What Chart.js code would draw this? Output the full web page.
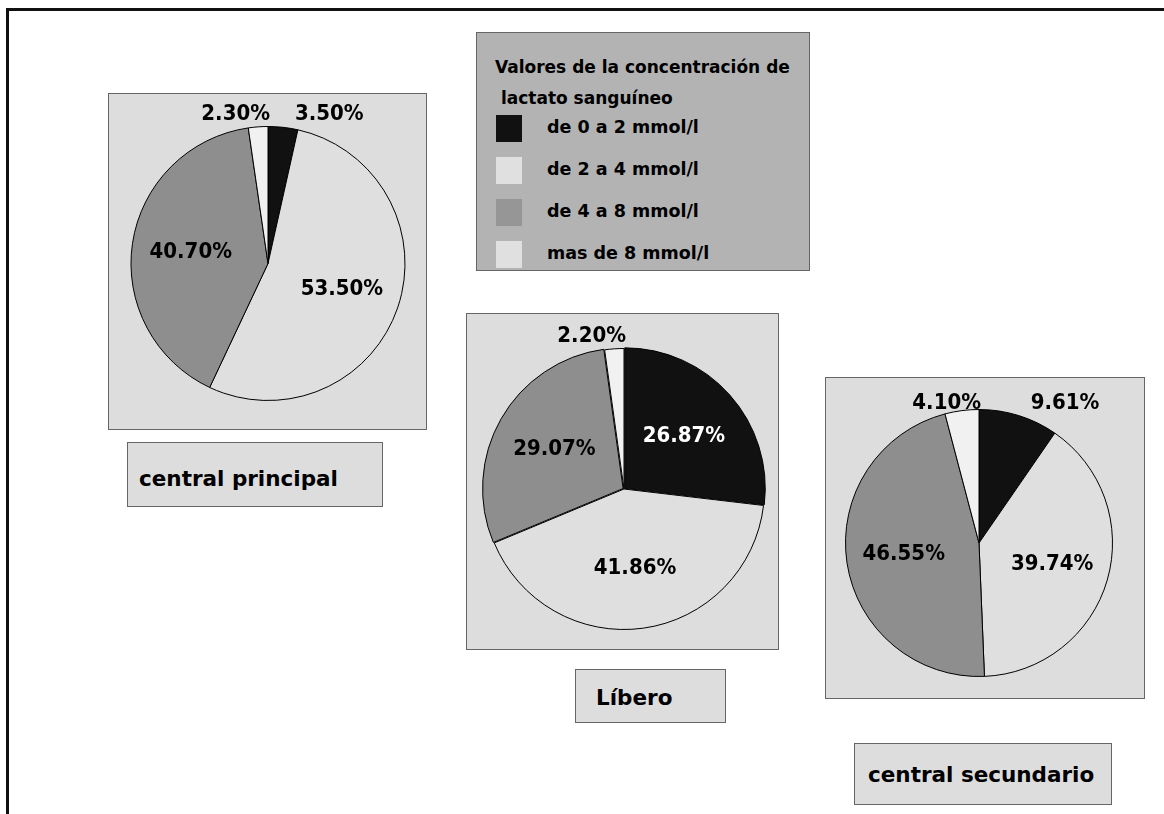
<!DOCTYPE html>
<html>
<head>
<meta charset="utf-8">
<script src="https://cdn.jsdelivr.net/npm/chart.js@4"></script>
<style>
  body { margin: 0; width: 1164px; height: 814px; background: #fff; overflow: hidden; position: relative;
         font-family: "DejaVu Sans", sans-serif; font-weight: bold; color: #000; }
  .frame { position: absolute; left: 6px; top: 8px; width: 1170px; height: 820px;
           border-top: 3px solid #111; border-left: 3px solid #111; }
  .panel { position: absolute; background: #dddddd; border: 1px solid #666; box-sizing: border-box; }
  .panel canvas { position: absolute; left: 0; top: 0; }
  .tag { position: absolute; background: #dddddd; border: 1px solid #666; box-sizing: border-box;
         font-size: 21.5px; line-height: 1; white-space: nowrap; }
  .legend { position: absolute; left: 476px; top: 32px; width: 334px; height: 239px;
            background: #b3b3b3; border: 1px solid #666; box-sizing: border-box; }
  .legend .title { position: absolute; left: 18px; font-size: 17px; white-space: pre; }
  .legend .sw { position: absolute; left: 19px; width: 26px; height: 27px; }
  .legend .lbl { position: absolute; left: 70px; font-size: 17.5px; white-space: nowrap; }
</style>
</head>
<body>
<div class="frame"></div>

<div class="panel" style="left:108px;top:93px;width:319px;height:337px"><canvas id="pieCentral"></canvas></div>
<div class="panel" style="left:466px;top:313px;width:313px;height:337px"><canvas id="pieLibero"></canvas></div>
<div class="panel" style="left:825px;top:377px;width:320px;height:322px"><canvas id="pieSecundario"></canvas></div>

<div class="tag" style="left:127px;top:442px;width:256px;height:65px;padding:25px 0 0 11px">central principal</div>
<div class="tag" style="left:575px;top:669px;width:151px;height:54px;padding:17px 0 0 20px">Líbero</div>
<div class="tag" style="left:854px;top:743px;width:258px;height:62px;padding:20px 0 0 13px">central secundario</div>

<div class="legend" id="legend"></div>

<script>
// categorias y valores (%)
var categorias = ['de 0 a 2 mmol/l', 'de 2 a 4 mmol/l', 'de 4 a 8 mmol/l', 'mas de 8 mmol/l'];
var colores = ['#111111', '#dfdfdf', '#8e8e8e', '#f1f1f1'];
var coloresLeyenda = ['#111111', '#e0e0e0', '#969696', '#e0e0e0'];

var centralPrincipal = [3.50, 53.50, 40.70, 2.30];
var libero = [26.87, 41.86, 29.07, 2.20];
var centralSecundario = [9.61, 39.74, 46.55, 4.10];

var tituloLeyenda = ['Valores de la concentración de', ' lactato sanguíneo'];

// leyenda comun
var legend = document.getElementById('legend');
tituloLeyenda.forEach(function (t, i) {
  var d = document.createElement('div');
  d.className = 'title';
  d.style.top = (24 + i * 31) + 'px';
  d.textContent = t;
  legend.appendChild(d);
});
categorias.forEach(function (c, i) {
  var sw = document.createElement('div');
  sw.className = 'sw';
  sw.style.top = (82 + i * 42) + 'px';
  sw.style.background = coloresLeyenda[i];
  legend.appendChild(sw);
  var l = document.createElement('div');
  l.className = 'lbl';
  l.style.top = (84 + i * 42) + 'px';
  l.textContent = c;
  legend.appendChild(l);
});

// etiquetas de porcentaje
var etiquetas = {
  id: 'etiquetas',
  afterDatasetsDraw: function (chart) {
    var ctx = chart.ctx;
    var meta = chart.getDatasetMeta(0);
    var data = chart.data.datasets[0].data;
    ctx.save();
    ctx.font = 'bold 22px "DejaVu Sans Condensed", "DejaVu Sans", sans-serif';
    ctx.textBaseline = 'middle';
    meta.data.forEach(function (arc, i) {
      var p = arc.getProps(['x', 'y', 'startAngle', 'endAngle', 'outerRadius']);
      var mid = (p.startAngle + p.endAngle) / 2;
      var txt = data[i].toFixed(2) + '%';
      if (data[i] < 10) {
        // fuera, encima del pastel
        var y = p.y - p.outerRadius - (data[i] > 4 ? 6 : 12);
        if (Math.cos(mid) >= 0) {
          ctx.textAlign = 'left';
          ctx.fillText(txt, p.x + p.outerRadius * Math.cos(mid) + 12, y);
        } else {
          ctx.textAlign = 'right';
          ctx.fillText(txt, p.x + 2, y);
        }
      } else {
        ctx.textAlign = 'center';
        ctx.fillStyle = i === 0 ? '#ffffff' : '#000000';
        var r = p.outerRadius * 0.57;
        ctx.fillText(txt, p.x + r * Math.cos(mid), p.y + r * Math.sin(mid));
        ctx.fillStyle = '#000000';
      }
    });
    ctx.restore();
  }
};

function pastel(id, valores, padding, offset) {
  const el = document.getElementById(id);
  el.width = el.parentNode.clientWidth;
  el.height = el.parentNode.clientHeight;
  new Chart(el, {
    type: 'pie',
    data: {
      labels: categorias,
      datasets: [{
        data: valores,
        backgroundColor: colores,
        borderColor: '#000000',
        borderWidth: 1,
        offset: offset || 0
      }]
    },
    options: {
      responsive: false,
      animation: false,
      layout: { padding: padding },
      plugins: { legend: { display: false }, tooltip: { enabled: false } }
    },
    plugins: [etiquetas]
  });
}

pastel('pieCentral', centralPrincipal, { left: 21, right: 20, top: 32, bottom: 28 });
pastel('pieLibero', libero, { left: 14, right: 11, top: 31, bottom: 16 }, [4, 0, 4, 0]);
pastel('pieSecundario', centralSecundario, { left: 19, right: 31, top: 31, bottom: 21 });
</script>
</body>
</html>
